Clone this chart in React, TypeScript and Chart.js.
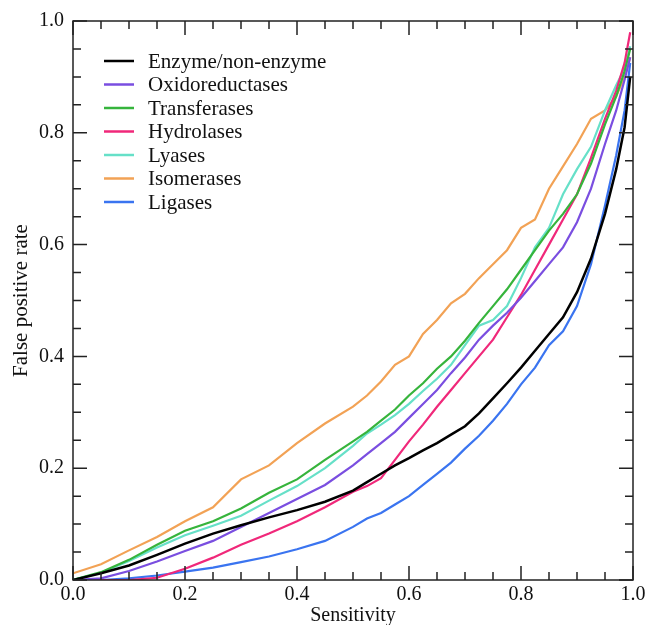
import React, { useEffect, useRef } from "react";
import { Chart, registerables } from "chart.js";

Chart.register(...registerables);

const sensitivity = [0, 0.05, 0.1, 0.15, 0.2, 0.25, 0.3, 0.35, 0.4, 0.45, 0.5, 0.525, 0.55, 0.575, 0.6, 0.625, 0.65, 0.675, 0.7, 0.725, 0.75, 0.775, 0.8, 0.825, 0.85, 0.875, 0.9, 0.925, 0.95, 0.97, 0.985, 0.995];

const enzyme = [0, 0.012, 0.026, 0.045, 0.065, 0.083, 0.098, 0.112, 0.125, 0.14, 0.16, 0.175, 0.19, 0.205, 0.218, 0.232, 0.245, 0.26, 0.275, 0.298, 0.325, 0.352, 0.38, 0.41, 0.44, 0.47, 0.515, 0.575, 0.655, 0.735, 0.81, 0.9];
const oxido = [0, 0.003, 0.016, 0.033, 0.052, 0.07, 0.095, 0.12, 0.145, 0.17, 0.205, 0.225, 0.245, 0.265, 0.29, 0.315, 0.34, 0.37, 0.398, 0.43, 0.455, 0.478, 0.505, 0.535, 0.565, 0.595, 0.64, 0.7, 0.78, 0.84, 0.895, 0.935];
const transfer = [0, 0.014, 0.036, 0.063, 0.088, 0.105, 0.128, 0.156, 0.18, 0.215, 0.248, 0.265, 0.285, 0.305, 0.33, 0.352, 0.378, 0.4, 0.428, 0.46, 0.49, 0.52, 0.555, 0.59, 0.625, 0.655, 0.69, 0.745, 0.815, 0.865, 0.91, 0.95];
const hydro = [0, 0, 0, 0.004, 0.02, 0.04, 0.063, 0.083, 0.105, 0.13, 0.158, 0.168, 0.182, 0.215, 0.248, 0.278, 0.31, 0.34, 0.37, 0.4, 0.43, 0.47, 0.51, 0.555, 0.6, 0.645, 0.69, 0.755, 0.825, 0.875, 0.925, 0.98];
const lyases = [0, 0.013, 0.034, 0.058, 0.08, 0.097, 0.115, 0.142, 0.168, 0.2, 0.24, 0.262, 0.278, 0.295, 0.315, 0.338, 0.36, 0.385, 0.42, 0.455, 0.465, 0.49, 0.54, 0.595, 0.63, 0.69, 0.735, 0.775, 0.84, 0.885, 0.915, 0.955];
const isomer = [0.012, 0.028, 0.053, 0.077, 0.105, 0.13, 0.18, 0.205, 0.245, 0.28, 0.31, 0.33, 0.355, 0.385, 0.4, 0.44, 0.465, 0.495, 0.512, 0.54, 0.565, 0.59, 0.63, 0.645, 0.7, 0.74, 0.78, 0.825, 0.84, 0.865, 0.9, 0.935];
const ligases = [0, 0, 0.003, 0.008, 0.015, 0.022, 0.032, 0.042, 0.055, 0.07, 0.095, 0.11, 0.12, 0.135, 0.15, 0.17, 0.19, 0.21, 0.235, 0.258, 0.285, 0.315, 0.35, 0.38, 0.42, 0.445, 0.49, 0.565, 0.67, 0.76, 0.84, 0.925];

const seriesNames = ["Enzyme/non-enzyme", "Oxidoreductases", "Transferases", "Hydrolases", "Lyases", "Isomerases", "Ligases"];
const seriesValues = [enzyme, oxido, transfer, hydro, lyases, isomer, ligases];
const seriesColors = ["#000000", "#7a4ee0", "#36b43c", "#f0287a", "#66e0c8", "#f2a255", "#3a74f0"];

const axisTicks = [0, 0.2, 0.4, 0.6, 0.8, 1.0];

const FONT = "'Liberation Serif', 'Times New Roman', serif";

const framePlugin = {
  id: "frame",
  afterDatasetsDraw(chart: any) {
    const { ctx, chartArea: a, scales } = chart;
    const xs = scales.x;
    const ys = scales.y;
    ctx.save();
    ctx.strokeStyle = "#222";
    ctx.lineWidth = 1.5;
    ctx.strokeRect(a.left, a.top, a.right - a.left, a.bottom - a.top);
    for (let i = 0; i <= 20; i++) {
      const v = i * 0.05;
      const len = i % 4 === 0 ? 14 : 8;
      const px = xs.getPixelForValue(v);
      const py = ys.getPixelForValue(v);
      ctx.beginPath();
      ctx.moveTo(px, a.bottom);
      ctx.lineTo(px, a.bottom - len);
      ctx.moveTo(px, a.top);
      ctx.lineTo(px, a.top + len);
      ctx.moveTo(a.left, py);
      ctx.lineTo(a.left + len, py);
      ctx.moveTo(a.right, py);
      ctx.lineTo(a.right - len, py);
      ctx.stroke();
    }
    ctx.restore();
  },
  afterDraw(chart: any) {
    const { ctx } = chart;
    ctx.save();
    ctx.font = `21px ${FONT}`;
    ctx.textBaseline = "middle";
    ctx.textAlign = "left";
    chart.data.datasets.forEach((ds: any, i: number) => {
      const y = 61 + i * 23.5;
      ctx.strokeStyle = ds.borderColor;
      ctx.lineWidth = 2.5;
      ctx.beginPath();
      ctx.moveTo(104, y);
      ctx.lineTo(134, y);
      ctx.stroke();
      ctx.fillStyle = "#111";
      ctx.fillText(ds.label, 148, y + 1);
    });
    ctx.restore();
  },
};

export default function App() {
  const ref = useRef<HTMLCanvasElement | null>(null);
  useEffect(() => {
    document.body.style.margin = "0";
    const canvas = ref.current;
    if (!canvas) return;
    const chart = new Chart(canvas, {
      type: "line",
      data: {
        datasets: seriesNames.map((name, i) => ({
          label: name,
          data: sensitivity.map((x, j) => ({ x, y: seriesValues[i][j] })),
          borderColor: seriesColors[i],
          backgroundColor: seriesColors[i],
          borderWidth: i === 0 ? 2.5 : 2.2,
          pointRadius: 0,
          tension: 0,
          fill: false,
        })),
      },
      options: {
        responsive: false,
        animation: false,
        layout: { padding: { left: 0, right: 17, top: 20, bottom: 0 } },
        plugins: { legend: { display: false }, tooltip: { enabled: false } },
        scales: {
          x: {
            type: "linear",
            min: 0,
            max: 1,
            afterBuildTicks: (s: any) => {
              s.ticks = axisTicks.map((v) => ({ value: v }));
            },
            afterFit: (s: any) => {
              s.height = 45;
            },
            grid: { display: false, drawTicks: false },
            border: { display: false },
            ticks: {
              padding: 3,
              color: "#111",
              font: { family: FONT, size: 20 },
              callback: (v: any) => Number(v).toFixed(1),
              maxRotation: 0,
            },
            title: {
              display: true,
              text: "Sensitivity",
              color: "#111",
              font: { family: FONT, size: 20, lineHeight: 1 },
              padding: { top: 0, bottom: -1 },
            },
          },
          y: {
            type: "linear",
            min: 0,
            max: 1,
            afterBuildTicks: (s: any) => {
              s.ticks = axisTicks.map((v) => ({ value: v }));
            },
            afterFit: (s: any) => {
              s.width = 73;
            },
            grid: { display: false, drawTicks: false },
            border: { display: false },
            ticks: {
              padding: 9,
              color: "#111",
              font: { family: FONT, size: 20 },
              callback: (v: any) => Number(v).toFixed(1),
            },
            title: {
              display: true,
              text: "False positive rate",
              color: "#111",
              font: { family: FONT, size: 21, lineHeight: 1.2 },
              padding: { top: 9, bottom: 0 },
            },
          },
        },
      },
      plugins: [framePlugin],
    });
    return () => chart.destroy();
  }, []);
  return (
    <div style={{ width: 650, height: 625, background: "#fff" }}>
      <canvas ref={ref} width={650} height={625} />
    </div>
  );
}
